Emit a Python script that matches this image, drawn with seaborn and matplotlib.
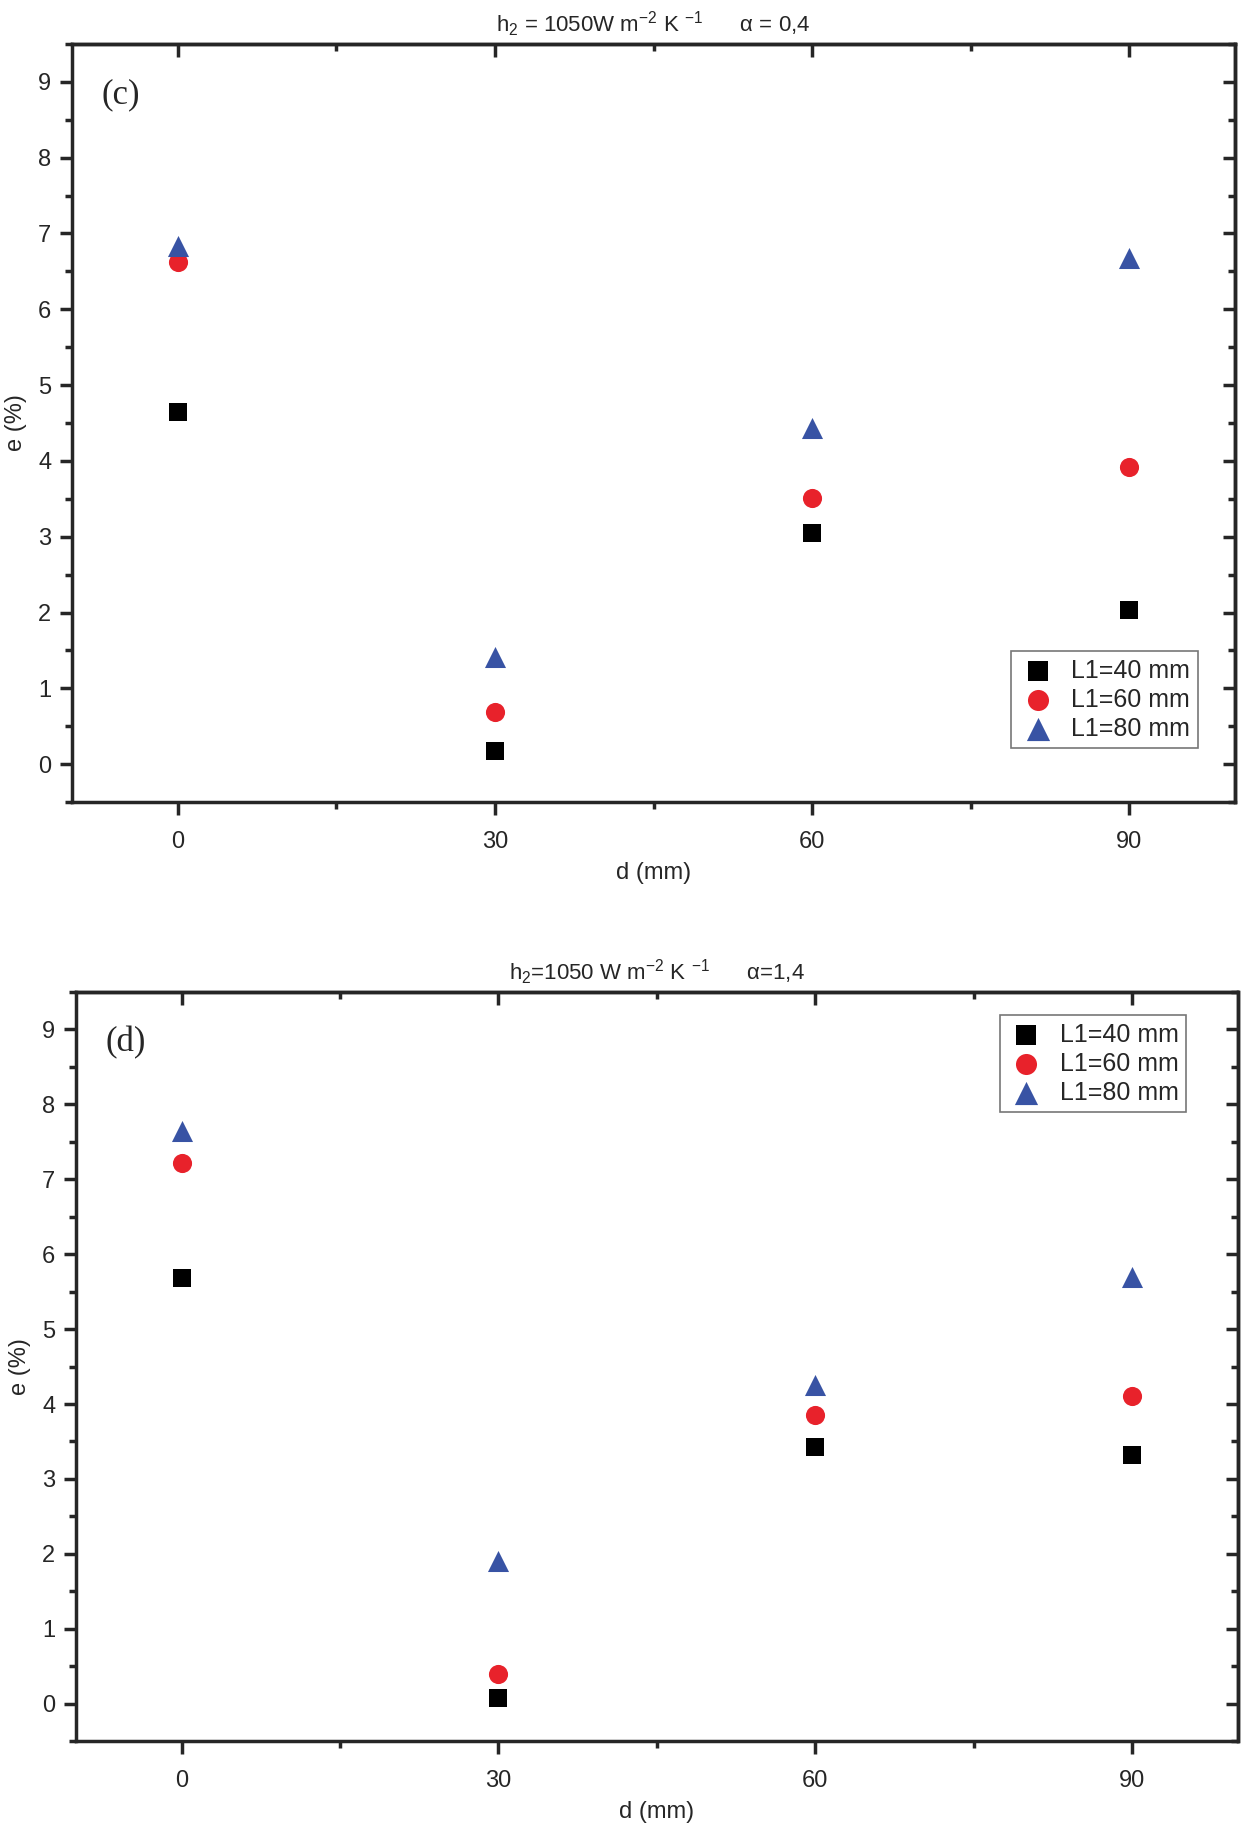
import pandas as pd
import seaborn as sns
import matplotlib.pyplot as plt
from matplotlib.ticker import MultipleLocator

sns.set_style("ticks")
plt.rcParams['font.family'] = ['Liberation Sans', 'DejaVu Sans']
plt.rcParams['mathtext.fontset'] = 'custom'
plt.rcParams['mathtext.rm'] = 'Liberation Sans'
plt.rcParams['mathtext.it'] = 'Liberation Sans:italic'

# distance d (mm)
d_values = [0, 30, 60, 90]
series_names = ['L1=40 mm', 'L1=60 mm', 'L1=80 mm']

# panel (c): alpha = 0,4
e_c_40 = [4.65, 0.17, 3.05, 2.04]
e_c_60 = [6.63, 0.69, 3.51, 3.92]
e_c_80 = [6.83, 1.42, 4.44, 6.68]

# panel (d): alpha = 1,4
e_d_40 = [5.68, 0.08, 3.42, 3.32]
e_d_60 = [7.22, 0.40, 3.85, 4.11]
e_d_80 = [7.64, 1.91, 4.25, 5.70]

palette = {'L1=40 mm': '#000000', 'L1=60 mm': '#e8222b', 'L1=80 mm': '#3853a4'}
markers = {'L1=40 mm': 's', 'L1=60 mm': 'o', 'L1=80 mm': '^'}
sizes = {'L1=40 mm': 170, 'L1=60 mm': 190, 'L1=80 mm': 230}


def long_df(values_40, values_60, values_80) -> pd.DataFrame:
    """Stack the three series into one long table"""
    rows = []
    for name, vals in zip(series_names, [values_40, values_60, values_80]):
        for d, e in zip(d_values, vals):
            rows.append((d, e, name))
    return pd.DataFrame(rows, columns=['d', 'e', 'series'])


def draw_panel(ax, df, title, tag, legend_loc, legend_anchor):
    """Scatter one panel in the Origin-like style"""
    for name in series_names:
        sub = df[df['series'] == name]
        sns.scatterplot(data=sub, x='d', y='e', ax=ax, color=palette[name],
                        marker=markers[name], s=sizes[name], linewidth=0,
                        label=name)
    ax.set_xlim(-10, 100)
    ax.set_ylim(-0.5, 9.5)
    ax.xaxis.set_major_locator(MultipleLocator(30))
    ax.xaxis.set_minor_locator(MultipleLocator(15))
    ax.yaxis.set_major_locator(MultipleLocator(1))
    ax.yaxis.set_minor_locator(MultipleLocator(0.5))
    ax.tick_params(which='major', direction='out', length=9, width=2.5,
                   labelsize=17, pad=6)
    ax.tick_params(axis='x', which='major', pad=12)
    ax.tick_params(which='minor', direction='out', length=5, width=2.5)
    for sp in ax.spines.values():
        sp.set_visible(True)
        sp.set_linewidth(2.5)
    # mirrored inward ticks on top and right
    top = ax.secondary_xaxis('top')
    top.xaxis.set_major_locator(MultipleLocator(30))
    top.xaxis.set_minor_locator(MultipleLocator(15))
    top.tick_params(which='major', direction='in', length=9, width=2.5, labeltop=False)
    top.tick_params(which='minor', direction='in', length=5, width=2.5)
    top.spines['top'].set_linewidth(2.5)
    right = ax.secondary_yaxis('right')
    right.yaxis.set_major_locator(MultipleLocator(1))
    right.yaxis.set_minor_locator(MultipleLocator(0.5))
    right.tick_params(which='major', direction='in', length=9, width=2.5, labelright=False)
    right.tick_params(which='minor', direction='in', length=5, width=2.5)
    right.spines['right'].set_linewidth(2.5)

    ax.set_xlabel('d (mm)', fontsize=17, labelpad=6)
    ax.set_ylabel('e (%)', fontsize=17, labelpad=8)
    ax.set_title(title, fontsize=16, pad=9)
    ax.text(0.025, 0.955, tag, transform=ax.transAxes, fontsize=25,
            family='Liberation Serif', va='top', ha='left')
    leg = ax.legend(loc=legend_loc, bbox_to_anchor=legend_anchor, fontsize=18,
                    frameon=True, fancybox=False, edgecolor='#555555',
                    handletextpad=0.6, borderpad=0.3, labelspacing=0.2,
                    handlelength=1.5, borderaxespad=0, markerscale=1.1)
    leg.get_frame().set_linewidth(1.2)


fig = plt.figure(figsize=(12.5, 18.3), dpi=100)
ax_c = fig.add_axes([0.0576, 0.5617, 0.9304, 0.4143])
ax_d = fig.add_axes([0.0608, 0.0486, 0.9292, 0.4093])

draw_panel(ax_c, long_df(e_c_40, e_c_60, e_c_80),
           'h$_2$ = 1050W m$^{-2}$ K $^{-1}$      α = 0,4', '(c)',
           'lower right', (0.968, 0.071))
draw_panel(ax_d, long_df(e_d_40, e_d_60, e_d_80),
           'h$_2$=1050 W m$^{-2}$ K $^{-1}$      α=1,4', '(d)',
           'upper right', (0.956, 0.969))

fig.savefig('out.png', dpi=100)
